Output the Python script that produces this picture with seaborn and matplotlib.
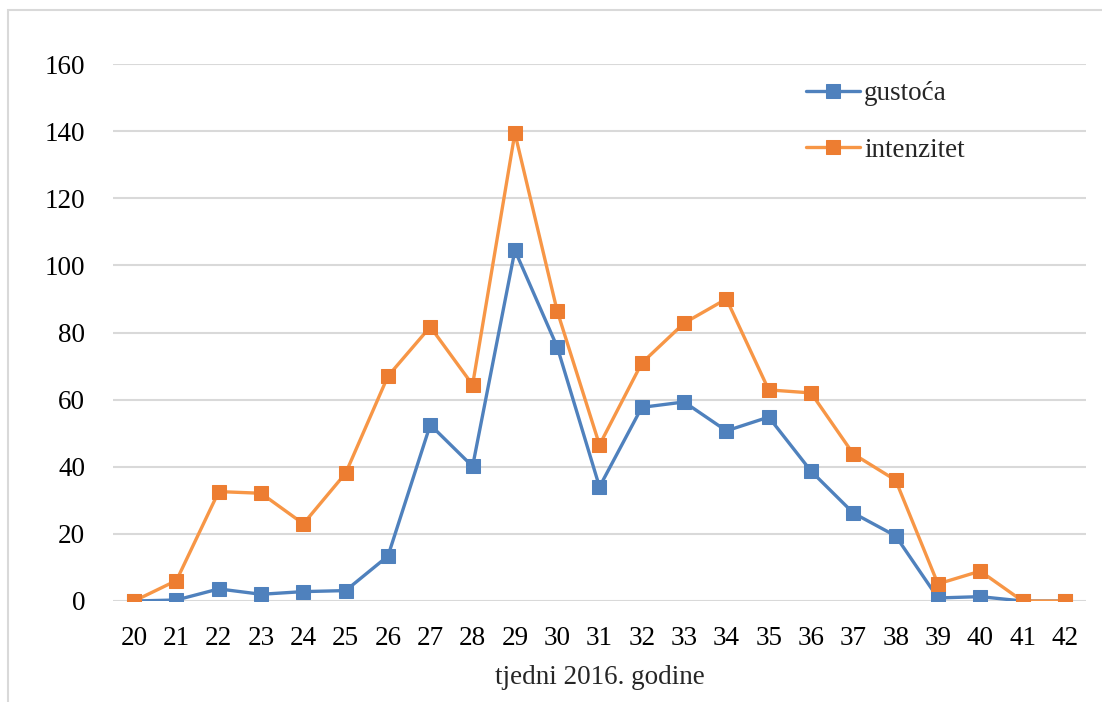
import matplotlib
matplotlib.use("Agg")
import matplotlib.pyplot as plt
import numpy as np
import pandas as pd
import seaborn as sns
from matplotlib.patches import Rectangle

# weeks of 2016
weeks = list(range(20, 43))
gustoca = [0, 0.3, 3.6, 2.0, 2.8, 3.1, 13.4, 52.5, 40.1, 104.5, 75.7, 34.0,
           57.7, 59.3, 50.7, 54.8, 38.7, 26.2, 19.4, 0.9, 1.3, 0, 0]
intenzitet = [0, 6.1, 32.6, 32.1, 23.0, 38.1, 67.0, 81.7, 64.4, 139.4, 86.4, 46.5,
              70.9, 82.8, 90.0, 62.9, 62.0, 43.8, 36.0, 5.1, 8.9, 0, 0]
y_ticks = [0, 20, 40, 60, 80, 100, 120, 140, 160]

df = pd.DataFrame({"tjedan": weeks, "gustoća": gustoca, "intenzitet": intenzitet})

sns.set_style("white")
plt.rcParams["font.family"] = ["Liberation Serif", "DejaVu Serif"]

fig = plt.figure(figsize=(11.02, 7.02), dpi=100)
ax = fig.add_axes([113 / 1102, 1 - 601 / 702, 973 / 1102, 537 / 702])

sns.lineplot(data=df, x="tjedan", y="gustoća", ax=ax, color="#4F81BD", linewidth=2.4,
             marker="s", markersize=10, markerfacecolor="#4F81BD", markeredgecolor="#4F81BD",
             label="gustoća", zorder=3)
sns.lineplot(data=df, x="tjedan", y="intenzitet", ax=ax, color="#F79646", linewidth=2.4,
             marker="s", markersize=10, markerfacecolor="#ED7D31", markeredgecolor="#ED7D31",
             label="intenzitet", zorder=4)

ax.set_xlim(19.5, 42.5)
ax.set_ylim(0, 160)
ax.set_xticks(weeks)
ax.set_yticks(y_ticks)
ax.tick_params(axis="both", length=0, labelsize=19.5, colors="black")
ax.tick_params(axis="y", pad=20)
ax.tick_params(axis="x", pad=18)
ax.yaxis.grid(True, color="#D9D9D9", linewidth=1.5)
ax.set_axisbelow(True)
for s in ax.spines.values():
    s.set_visible(False)
ax.set_ylabel("")
ax.set_xlabel("tjedni 2016. godine", fontsize=19.5, labelpad=10)

leg = ax.legend(loc="upper left", bbox_to_anchor=(0.712, 0.968), frameon=False,
                fontsize=19.5, handlelength=2.0, handletextpad=0.15, labelspacing=1.17,
                borderaxespad=0, borderpad=0)

# outer chart border (cut by image edges on right and bottom)
fig.patches.append(Rectangle((8 / 1102, -0.1), 1.2, 1 - 10 / 702 + 0.1,
                             transform=fig.transFigure, fill=False,
                             edgecolor="#D9D9D9", linewidth=1.5))

fig.savefig("out.png", dpi=100)
